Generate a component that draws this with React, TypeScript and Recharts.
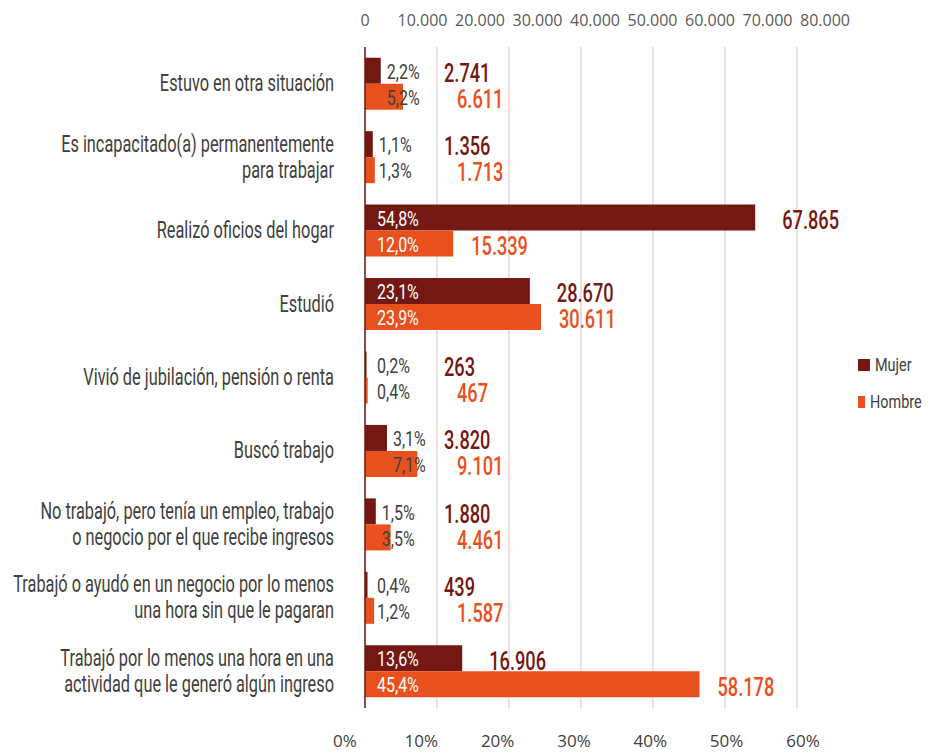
import React from 'react';
import { BarChart, Bar, XAxis, YAxis, CartesianGrid, Legend, LabelList } from 'recharts';

const categories = [
  'Estuvo en otra situación',
  'Es incapacitado(a) permanentemente\npara trabajar',
  'Realizó oficios del hogar',
  'Estudió',
  'Vivió de jubilación, pensión o renta',
  'Buscó trabajo',
  'No trabajó, pero tenía un empleo, trabajo\no negocio por el que recibe ingresos',
  'Trabajó o ayudó en un negocio por lo menos\nuna hora sin que le pagaran',
  'Trabajó por lo menos una hora en una\nactividad que le generó algún ingreso',
];
const mujer = [2741, 1356, 67865, 28670, 263, 3820, 1880, 439, 16906];
const hombre = [6611, 1713, 15339, 30611, 467, 9101, 4461, 1587, 58178];
const mujerPct = [2.2, 1.1, 54.8, 23.1, 0.2, 3.1, 1.5, 0.4, 13.6];
const hombrePct = [5.2, 1.3, 12.0, 23.9, 0.4, 7.1, 3.5, 1.2, 45.4];
const valueTicks = [0, 10000, 20000, 30000, 40000, 50000, 60000, 70000, 80000];
const pctTicks = [0, 10, 20, 30, 40, 50, 60];

const MUJER = '#731812';
const HOMBRE = '#E8501D';
const FONT = 'Roboto, "Noto Sans", sans-serif';

const data = categories.map((cat, i) => ({
  cat,
  mujer: mujer[i],
  hombre: hombre[i],
  mujerPct: mujerPct[i],
  hombrePct: hombrePct[i],
}));

const fmtNum = (v: number) => String(v).replace(/\B(?=(\d{3})+(?!\d))/g, '.');
const fmtPct = (v: number) => v.toFixed(1).replace('.', ',') + '%';

// condensed look: no narrow font installed, so squeeze Roboto horizontally
const NarrowText = ({ x, y, size, sx, fill, weight = 400, anchor = 'start', children }: any) => (
  <text transform={`translate(${x} ${y}) scale(${sx} 1)`} x={0} y={0} textAnchor={anchor}
    dominantBaseline="central" fontFamily={FONT} fontSize={size} fontWeight={weight} fill={fill}>
    {children}
  </text>
);

const box = (props: any) => {
  const vb = props.viewBox ?? props;
  return { x: Number(vb.x), y: Number(vb.y), width: Number(vb.width), height: Number(vb.height) };
};

const makePctLabel = (isMujer: boolean) => (props: any) => {
  const { x, y, width, height } = box(props);
  const i = props.index;
  const pct = isMujer ? mujerPct[i] : hombrePct[i];
  const own = isMujer ? mujer[i] : hombre[i];
  const mujerEnd = isMujer ? x + width : x + (own > 0 ? (mujer[i] * width) / own : 0);
  const big = pct >= 10;
  const tx = big ? x + 12 : Math.max(x + 12, mujerEnd + 6);
  return (
    <NarrowText x={tx} y={y + height / 2 + 1} size={20} sx={0.8} fill={big ? '#ffffff' : '#404040'}>
      {fmtPct(pct)}
    </NarrowText>
  );
};

const makeValueLabel = (isMujer: boolean) => (props: any) => {
  const { x, y, width, height } = box(props);
  const i = props.index;
  const end = x + width;
  const tx = isMujer ? Math.max(end + 27, x + 79) : Math.max(end + 18, x + 92);
  return (
    <NarrowText x={tx} y={y + height / 2 + 2} size={26} sx={0.7} weight={500} fill={isMujer ? MUJER : HOMBRE}>
      {fmtNum(isMujer ? mujer[i] : hombre[i])}
    </NarrowText>
  );
};

const CategoryTick = (props: any) => {
  const { x, y, payload } = props;
  const lines = String(payload.value).split('\n');
  const lh = 26;
  const start = y - ((lines.length - 1) * lh) / 2;
  return (
    <g>
      {lines.map((ln, k) => (
        <NarrowText key={k} x={x} y={start + k * lh} size={23} sx={0.71} fill="#404040" anchor="end">
          {ln}
        </NarrowText>
      ))}
    </g>
  );
};

const LegendBox = () => (
  <div style={{ fontFamily: FONT, fontSize: 19, color: '#404040' }}>
    {[['Mujer', MUJER], ['Hombre', HOMBRE]].map(([name, c]) => (
      <div key={name} style={{ display: 'flex', alignItems: 'center', height: 37 }}>
        <span style={{ width: 12, height: 12, background: c, display: 'inline-block', marginRight: 5 }} />
        <span style={{ display: 'inline-block', transform: 'scaleX(0.76)', transformOrigin: 'left center' }}>{name}</span>
      </div>
    ))}
  </div>
);

const NoTick = () => <g />;

export default function App() {
  return (
    <div style={{ position: 'absolute', left: 0, top: 0, background: '#fff' }}>
      <BarChart
        layout="vertical"
        width={936}
        height={753}
        data={data}
        margin={{ top: 0, right: 111, bottom: 0, left: 0 }}
        barCategoryGap="14.6%"
        barGap={0}
      >
        <CartesianGrid xAxisId="grid" horizontal={false} syncWithTicks stroke="#e8d6d6" strokeWidth={1.5} />
        <XAxis xAxisId="abs" type="number" orientation="top" domain={[0, 80000]} ticks={valueTicks}
          height={47} axisLine={false} tickLine={false} tickSize={0} tickMargin={21} interval={0}
          tickFormatter={fmtNum} tick={{ fill: '#595959', fontSize: 16, fontFamily: '"Open Sans", sans-serif' }} />
        <XAxis xAxisId="pct" type="number" orientation="bottom" domain={[2.62, 62.89]} ticks={pctTicks}
          allowDataOverflow height={45} axisLine={false} tickLine={false} tickSize={0} tickMargin={27}
          interval={0} tickFormatter={(v: number) => `${v}%`}
          tick={{ fill: '#404040', fontSize: 17, fontFamily: '"Open Sans", sans-serif' }} />
        <XAxis xAxisId="grid" type="number" orientation="bottom" domain={[0, 63.9]} ticks={pctTicks}
          allowDataOverflow interval={0} height={0} axisLine={false} tickLine={false} tick={NoTick} />
        <YAxis type="category" dataKey="cat" width={365} interval={0} tickLine={false} tickSize={0}
          tickMargin={31} axisLine={{ stroke: MUJER, strokeWidth: 1.5 }} tick={CategoryTick} />
        <Legend align="center" verticalAlign="middle" layout="horizontal" content={LegendBox}
          wrapperStyle={{ left: 858, top: 346, width: 80, height: 74 }} />
        <Bar xAxisId="abs" dataKey="mujer" name="Mujer" fill={MUJER} isAnimationActive={false}>
          <LabelList dataKey="mujerPct" content={makePctLabel(true)} />
          <LabelList dataKey="mujer" content={makeValueLabel(true)} />
        </Bar>
        <Bar xAxisId="abs" dataKey="hombre" name="Hombre" fill={HOMBRE} isAnimationActive={false}>
          <LabelList dataKey="hombrePct" content={makePctLabel(false)} />
          <LabelList dataKey="hombre" content={makeValueLabel(false)} />
        </Bar>
      </BarChart>
    </div>
  );
}
